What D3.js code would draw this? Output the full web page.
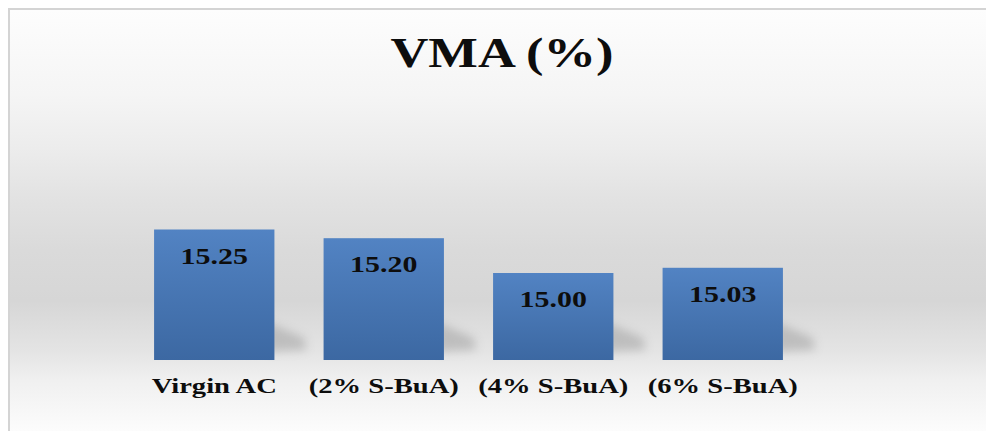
<!DOCTYPE html>
<html>
<head>
<meta charset="utf-8">
<script src="https://cdn.jsdelivr.net/npm/d3@7"></script>
<style>
  body { margin: 0; background: #ffffff; }
  svg { display: block; }
</style>
</head>
<body>
<svg id="chart" width="986" height="431"></svg>
<script>
// dados do gráfico
const categorias = ["Virgin AC", "(2% S-BuA)", "(4% S-BuA)", "(6% S-BuA)"];
const valores = [15.25, 15.20, 15.00, 15.03];
const rotulos = ["15.25", "15.20", "15.00", "15.03"];
const titulo = "VMA (%)";

const largura = 986, altura = 431;
const esticar = 1.3; // o texto original está esticado na horizontal

const svg = d3.select("#chart");
const defs = svg.append("defs");

// fundo em degradê
const fundo = defs.append("linearGradient")
  .attr("id", "fundo")
  .attr("gradientUnits", "userSpaceOnUse")
  .attr("x1", 0).attr("y1", 10).attr("x2", 0).attr("y2", 431);
[[0, "#fdfdfd"], [0.2, "#f5f5f5"], [0.33, "#ececec"], [0.45, "#e2e2e2"],
 [0.57, "#dadada"], [0.69, "#d6d6d6"], [0.81, "#e4e4e4"], [0.88, "#f0f0f0"], [1, "#fcfcfc"]]
  .forEach(([o, c]) => fundo.append("stop").attr("offset", o).attr("stop-color", c));

const corBarra = defs.append("linearGradient")
  .attr("id", "barra").attr("x1", 0).attr("y1", 0).attr("x2", 0).attr("y2", 1);
corBarra.append("stop").attr("offset", 0).attr("stop-color", "#5283c3");
corBarra.append("stop").attr("offset", 1).attr("stop-color", "#3c68a2");

defs.append("filter").attr("id", "desfoque")
  .attr("x", "-50%").attr("y", "-50%").attr("width", "200%").attr("height", "200%")
  .append("feGaussianBlur").attr("stdDeviation", 5);

svg.append("rect")
  .attr("x", 9).attr("y", 9)
  .attr("width", largura).attr("height", altura)
  .attr("fill", "url(#fundo)")
  .attr("stroke", "#d4d4d4").attr("stroke-width", 2);

// escalas
const x = d3.scaleBand()
  .domain(categorias)
  .range([129.5, 807.5])
  .paddingInner(0.29)
  .paddingOuter(0.145);

const y = d3.scaleLinear()
  .domain([14.5, 15.6])
  .range([360, 168.6]);

const dados = categorias.map((c, i) => ({ cat: c, valor: valores[i], rotulo: rotulos[i] }));
const base = y(14.5);

// sombras em perspectiva
svg.append("g").selectAll("path")
  .data(dados)
  .enter()
  .append("path")
  .attr("d", d => {
    const x1 = x(d.cat) + x.bandwidth();
    return `M${x1 - 8},${base - 8} L${x1 - 8},${base - 38} L${x1 + 30},${base - 22} L${x1 + 32},${base - 10} Z`;
  })
  .attr("fill", "#8a8a8a")
  .attr("opacity", 0.4)
  .attr("filter", "url(#desfoque)");

// barras
svg.append("g").selectAll("rect")
  .data(dados)
  .enter()
  .append("rect")
  .attr("x", d => x(d.cat))
  .attr("width", x.bandwidth())
  .attr("y", d => y(d.valor))
  .attr("height", d => base - y(d.valor))
  .attr("fill", "url(#barra)");

const fonte = "'Liberation Serif', 'Times New Roman', serif";

// esticar o texto na horizontal como no original
function alargar(sel, fator) {
  sel.each(function () {
    const w = this.getComputedTextLength();
    d3.select(this).attr("textLength", w * fator).attr("lengthAdjust", "spacingAndGlyphs");
  });
}

// rótulos dos valores
svg.append("g").selectAll("text")
  .data(dados)
  .enter()
  .append("text")
  .attr("x", d => x(d.cat) + x.bandwidth() / 2)
  .attr("y", d => y(d.valor) + 34)
  .attr("text-anchor", "middle")
  .attr("font-family", fonte)
  .attr("font-weight", "bold")
  .attr("font-size", 23)
  .attr("fill", "#0d0d0d")
  .text(d => d.rotulo)
  .call(alargar, esticar);

// eixo X (só os rótulos)
const eixoX = svg.append("g")
  .attr("transform", `translate(0,${base})`)
  .call(d3.axisBottom(x).tickSize(0).tickPadding(0));
eixoX.select(".domain").remove();
eixoX.selectAll("text")
  .attr("y", 33)
  .attr("dy", 0)
  .attr("font-family", fonte)
  .attr("font-weight", "bold")
  .attr("font-size", 22)
  .attr("fill", "#0d0d0d")
  .call(alargar, esticar);

// título
svg.append("text")
  .attr("x", 502)
  .attr("y", 67)
  .attr("text-anchor", "middle")
  .attr("font-family", fonte)
  .attr("font-weight", "bold")
  .attr("font-size", 42)
  .attr("fill", "#0d0d0d")
  .text(titulo)
  .call(alargar, 1.25);
</script>
</body>
</html>
